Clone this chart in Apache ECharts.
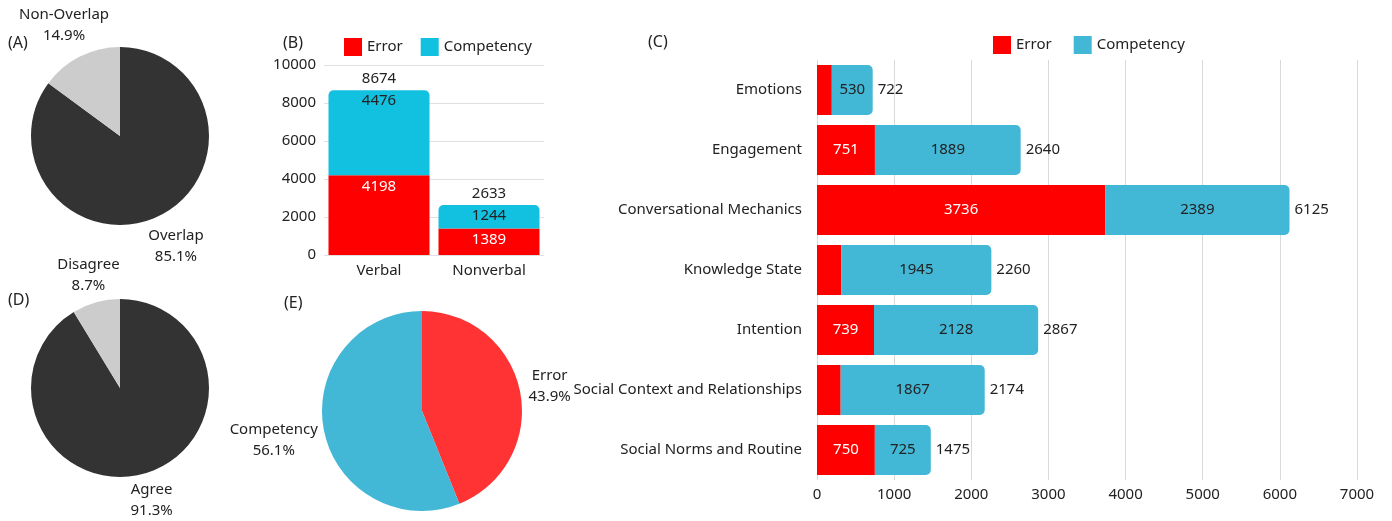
<!DOCTYPE html>
<html>
<head>
<meta charset="utf-8">
<script src="https://cdn.jsdelivr.net/npm/echarts@6/dist/echarts.min.js"></script>
<style>
  html, body { margin: 0; padding: 0; background: #fff; }
  #chart { width: 1392px; height: 521px; }
</style>
</head>
<body>
<div id="chart"></div>
<script>
// (A) overlap pie
const overlapNames = ['Overlap', 'Non-Overlap'];
const overlapValues = [85.1, 14.9];

// (D) agreement pie
const agreeNames = ['Agree', 'Disagree'];
const agreeValues = [91.3, 8.7];

// (E) error vs competency pie
const shareNames = ['Error', 'Competency'];
const shareValues = [43.9, 56.1];

// (B) verbal / nonverbal stacked bars
const modeCats = ['Verbal', 'Nonverbal'];
const modeError = [4198, 1389];
const modeCompetency = [4476, 1244];
const modeTotals = [8674, 2633];

// (C) categories, horizontal stacked bars
const themeCats = ['Emotions', 'Engagement', 'Conversational Mechanics', 'Knowledge State',
  'Intention', 'Social Context and Relationships', 'Social Norms and Routine'];
const themeError = [192, 751, 3736, 315, 739, 307, 750];
const themeCompetency = [530, 1889, 2389, 1945, 2128, 1867, 725];
const themeTotals = [722, 2640, 6125, 2260, 2867, 2174, 1475];

const FONT = 'Noto Sans';
const TXT = '#222';
const RED = '#ff0000';
const CYAN = '#12c0df';
const BLUE = '#42b7d6';

const chart = echarts.init(document.getElementById('chart'));

// keep pie labels at the end of the (hidden) label line, but centre the two lines
function centerLabel(p) {
  let x, y;
  if (p.labelLinePoints && p.labelLinePoints.length > 2) {
    x = p.labelLinePoints[2][0];
    y = p.labelLinePoints[2][1];
  } else {
    const r = p.labelRect;
    x = p.align === 'right' ? r.x + r.width : r.x;
    y = r.y + r.height / 2;
  }
  return { x: x, y: y, align: 'center', verticalAlign: 'middle' };
}

function pieSeries(names, values, colors, center, radius, lengths) {
  return {
    type: 'pie',
    center: center,
    radius: radius,
    startAngle: 90,
    clockwise: true,
    avoidLabelOverlap: false,
    silent: true,
    itemStyle: { borderWidth: 0 },
    label: {
      show: true,
      position: 'outside',
      formatter: '{b}\n{c}%',
      fontFamily: FONT,
      fontSize: 15,
      lineHeight: 21,
      color: TXT
    },
    labelLine: { show: false, length: 30, length2: 0 },
    labelLayout: centerLabel,
    data: names.map((n, i) => ({
      name: n,
      value: values[i],
      itemStyle: { color: colors[i] },
      labelLine: { show: false, length: lengths[i], length2: 0 }
    }))
  };
}

const plain = v => String(v);

const option = {
  animation: false,
  textStyle: { fontFamily: FONT },
  title: [
    { text: '(A)', left: 8, top: 35 },
    { text: '(B)', left: 283, top: 35 },
    { text: '(C)', left: 648, top: 34 },
    { text: '(D)', left: 8, top: 292 },
    { text: '(E)', left: 284, top: 295 }
  ].map(t => Object.assign(t, {
    padding: 0,
    textStyle: { fontFamily: FONT, fontSize: 16, fontWeight: 'normal', color: TXT }
  })),
  legend: [
    {
      left: 339, top: 33,
      itemWidth: 18, itemHeight: 18, itemGap: 18,
      icon: 'rect',
      textStyle: { fontFamily: FONT, fontSize: 15, color: TXT },
      data: [
        { name: 'Error', itemStyle: { color: RED } },
        { name: 'Competency', itemStyle: { color: CYAN } }
      ]
    },
    {
      left: 988, top: 31,
      itemWidth: 18, itemHeight: 18, itemGap: 22,
      icon: 'rect',
      textStyle: { fontFamily: FONT, fontSize: 15, color: TXT },
      data: [
        { name: 'Error', itemStyle: { color: RED } },
        { name: 'Competency', itemStyle: { color: BLUE } }
      ]
    }
  ],
  grid: [
    { left: 324, width: 220, top: 65, bottom: 266 },
    { left: 817, right: 35, top: 60, bottom: 41 }
  ],
  xAxis: [
    {
      gridIndex: 0,
      type: 'category',
      data: modeCats,
      axisLine: { show: false },
      axisTick: { show: false },
      axisLabel: { fontFamily: FONT, fontSize: 15, color: TXT, margin: 8 }
    },
    {
      gridIndex: 1,
      type: 'value',
      min: 0, max: 7000, interval: 1000,
      axisLine: { show: false },
      axisTick: { show: false },
      splitLine: { lineStyle: { color: '#d9d9d9' } },
      axisLabel: { fontFamily: FONT, fontSize: 15, color: TXT, margin: 7, formatter: plain }
    }
  ],
  yAxis: [
    {
      gridIndex: 0,
      type: 'value',
      min: 0, max: 10000, interval: 2000,
      axisLine: { show: false },
      axisTick: { show: false },
      splitLine: { lineStyle: { color: '#e0e0e0' } },
      axisLabel: { fontFamily: FONT, fontSize: 15, color: TXT, margin: 8, formatter: plain }
    },
    {
      gridIndex: 1,
      type: 'category',
      inverse: true,
      data: themeCats,
      axisLine: { show: false },
      axisTick: { show: false },
      axisLabel: { fontFamily: FONT, fontSize: 15, color: TXT, margin: 15 }
    }
  ],
  series: [
    pieSeries(overlapNames, overlapValues, ['#333333', '#cccccc'], [120, 136], 89, [35, 35]),
    pieSeries(agreeNames, agreeValues, ['#333333', '#cccccc'], [120, 388], 89, [28, 28]),
    pieSeries(shareNames, shareValues, ['#ff3333', BLUE], [422, 411], 100, [30, 51]),

    // (B)
    {
      name: 'Error', type: 'bar', stack: 'mode',
      xAxisIndex: 0, yAxisIndex: 0,
      barWidth: 101,
      itemStyle: { color: RED },
      label: { show: true, position: 'insideTop', distance: 4, color: '#fff', fontFamily: FONT, fontSize: 15 },
      data: modeError
    },
    {
      name: 'Competency', type: 'bar', stack: 'mode',
      xAxisIndex: 0, yAxisIndex: 0,
      barWidth: 101,
      itemStyle: { color: CYAN, borderRadius: [5, 5, 0, 0] },
      label: { show: true, position: 'insideTop', distance: 3, color: TXT, fontFamily: FONT, fontSize: 15 },
      data: modeCompetency
    },
    {
      name: 'Total', type: 'bar', stack: 'mode',
      xAxisIndex: 0, yAxisIndex: 0,
      barWidth: 101,
      itemStyle: { color: 'transparent' },
      label: {
        show: true, position: 'top', distance: 4, color: TXT, fontFamily: FONT, fontSize: 15,
        formatter: p => modeTotals[p.dataIndex]
      },
      data: modeTotals.map(() => 0)
    },

    // (C)
    {
      name: 'Error', type: 'bar', stack: 'theme',
      xAxisIndex: 1, yAxisIndex: 1,
      barWidth: 50,
      itemStyle: { color: RED },
      label: {
        show: true, position: 'inside', color: '#fff', fontFamily: FONT, fontSize: 15,
        formatter: p => (p.value >= 400 ? p.value : '')
      },
      data: themeError
    },
    {
      name: 'Competency', type: 'bar', stack: 'theme',
      xAxisIndex: 1, yAxisIndex: 1,
      barWidth: 50,
      itemStyle: { color: BLUE, borderRadius: [0, 5, 5, 0] },
      label: { show: true, position: 'inside', color: TXT, fontFamily: FONT, fontSize: 15 },
      data: themeCompetency
    },
    {
      name: 'Total', type: 'bar', stack: 'theme',
      xAxisIndex: 1, yAxisIndex: 1,
      barWidth: 50,
      itemStyle: { color: 'transparent' },
      label: {
        show: true, position: 'right', distance: 5, color: TXT, fontFamily: FONT, fontSize: 15,
        formatter: p => themeTotals[p.dataIndex]
      },
      data: themeTotals.map(() => 0)
    }
  ]
};

chart.setOption(option);
</script>
</body>
</html>
